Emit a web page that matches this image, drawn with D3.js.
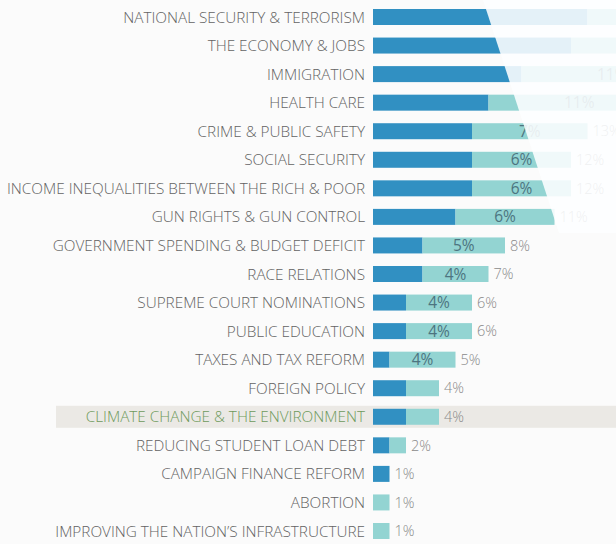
<!DOCTYPE html>
<html><head><meta charset="utf-8">
<script src="https://cdn.jsdelivr.net/npm/d3@7"></script>
<style>
html,body{margin:0;padding:0;background:#fbfbfb;}
svg{display:block;}
</style></head>
<body>
<svg id="chart" width="616" height="544"></svg>
<script>
const categories = [
  "NATIONAL SECURITY & TERRORISM",
  "THE ECONOMY & JOBS",
  "IMMIGRATION",
  "HEALTH CARE",
  "CRIME & PUBLIC SAFETY",
  "SOCIAL SECURITY",
  "INCOME INEQUALITIES BETWEEN THE RICH & POOR",
  "GUN RIGHTS & GUN CONTROL",
  "GOVERNMENT SPENDING & BUDGET DEFICIT",
  "RACE RELATIONS",
  "SUPREME COURT NOMINATIONS",
  "PUBLIC EDUCATION",
  "TAXES AND TAX REFORM",
  "FOREIGN POLICY",
  "CLIMATE CHANGE & THE ENVIRONMENT",
  "REDUCING STUDENT LOAN DEBT",
  "CAMPAIGN FINANCE REFORM",
  "ABORTION",
  "IMPROVING THE NATION\u2019S INFRASTRUCTURE"
];
const firstChoice  = [13, 12, 9, 7, 6, 6, 6, 5, 3, 3, 2, 2, 1, 2, 2, 1, 1, 0, 0];
const secondChoice = [11, 10, 11, 11, 7, 6, 6, 6, 5, 4, 4, 4, 4, 2, 2, 1, 0, 1, 1];
const totals       = [24, 22, 20, 18, 13, 12, 12, 11, 8, 7, 6, 6, 5, 4, 4, 2, 1, 1, 1];
const highlighted  = "CLIMATE CHANGE & THE ENVIRONMENT";

const rows = categories.map((c, i) => ({cat: c, a: firstChoice[i], b: secondChoice[i], t: totals[i]}));

const W = 616, H = 544;
const svg = d3.select("#chart");
const x = d3.scaleLinear().domain([0, 30]).range([373, 373 + 30 * 16.5]);
const y = d3.scaleBand().domain(categories).range([2.72, 545.28]).paddingInner(0.44).paddingOuter(0.22);
const bw = y.bandwidth();

const DARK = "#3190c2", TEAL = "#93d4d2";
const FONT = "'Open Sans', sans-serif";

// highlight band
svg.append("rect")
  .attr("x", 56).attr("width", W - 56)
  .attr("y", y(highlighted) + bw / 2 - 11).attr("height", 22)
  .attr("fill", "#ebe9e5");

// category labels
svg.append("g").selectAll("text").data(rows).join("text")
  .attr("x", x(0) - 8)
  .attr("y", d => y(d.cat) + bw / 2)
  .attr("dy", "0.36em")
  .attr("text-anchor", "end")
  .attr("font-family", FONT)
  .attr("font-weight", 300)
  .attr("font-size", 15.3)
  .attr("fill", d => d.cat === highlighted ? "#6e9a5c" : "#636363")
  .text(d => d.cat);

// dark segments
svg.append("g").selectAll("rect").data(rows.filter(d => d.a > 0)).join("rect")
  .attr("x", x(0))
  .attr("y", d => y(d.cat))
  .attr("width", d => x(d.a) - x(0))
  .attr("height", bw)
  .attr("fill", DARK);

// teal segments
svg.append("g").selectAll("rect").data(rows.filter(d => d.b > 0)).join("rect")
  .attr("x", d => x(d.a))
  .attr("y", d => y(d.cat))
  .attr("width", d => x(d.a + d.b) - x(d.a))
  .attr("height", bw)
  .attr("fill", TEAL);

// inner labels (only those that start inside the slide photo)
svg.append("g").selectAll("text").data(rows.filter(d => d.b >= 4 && x(d.a + d.b / 2) - 12 < W)).join("text")
  .attr("x", d => x(d.a + d.b / 2))
  .attr("y", d => y(d.cat) + bw / 2)
  .attr("dy", "0.36em")
  .attr("text-anchor", "middle")
  .attr("font-family", FONT)
  .attr("font-size", 15.5)
  .attr("fill", "#4d7480")
  .text(d => d.b + "%");

// total labels
svg.append("g").selectAll("text").data(rows.filter(d => x(d.t) + 5 < W)).join("text")
  .attr("x", d => x(d.t) + 5)
  .attr("y", d => y(d.cat) + bw / 2)
  .attr("dy", "0.36em")
  .attr("font-family", FONT)
  .attr("font-weight", 300)
  .attr("font-size", 14.5)
  .attr("fill", "#8a8a8a")
  .text(d => d.t + "%");

// photo glare over the upper right of the slide
svg.append("polygon")
  .attr("points", "483,0 616,0 616,233 559,233")
  .attr("fill", "#fdfeff")
  .attr("opacity", 0.88);
</script>
</body></html>
